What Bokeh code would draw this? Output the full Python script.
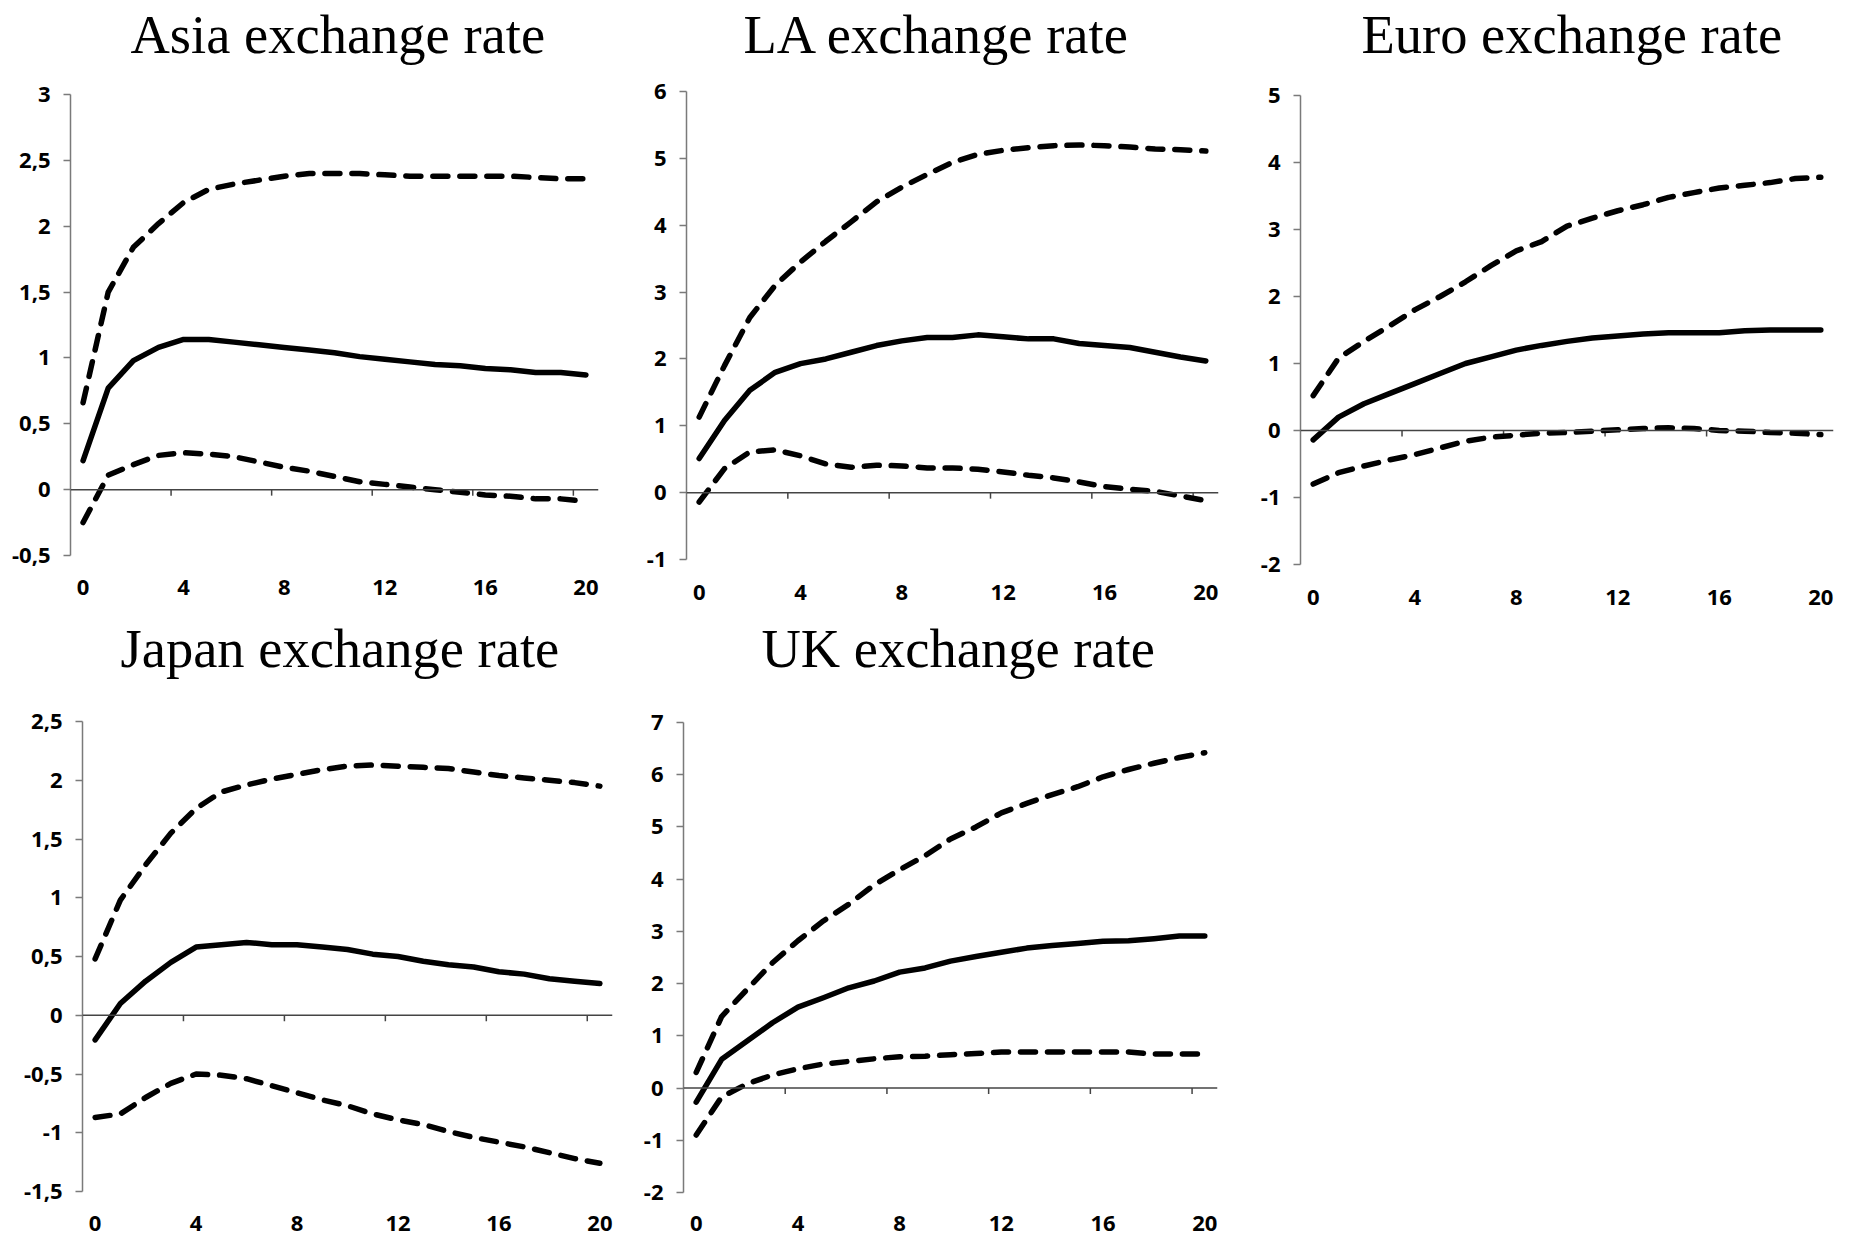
from bokeh.plotting import figure
from bokeh.models import FixedTicker, Span, Range1d, Title
from bokeh.layouts import row, column
from bokeh.embed import file_html
from bokeh.resources import INLINE

# ---------------- data ----------------
horizon = list(range(21))
x_tick_labels = [0, 4, 8, 12, 16, 20]

asia_mean = [0.22, 0.77, 0.98, 1.08, 1.14, 1.14, 1.12, 1.10, 1.08, 1.06, 1.04,
             1.01, 0.99, 0.97, 0.95, 0.94, 0.92, 0.91, 0.89, 0.89, 0.87]
asia_upper = [0.66, 1.50, 1.84, 2.02, 2.18, 2.28, 2.32, 2.35, 2.38, 2.40, 2.40,
              2.40, 2.39, 2.38, 2.38, 2.38, 2.38, 2.38, 2.37, 2.36, 2.36]
asia_lower = [-0.25, 0.11, 0.19, 0.26, 0.28, 0.27, 0.25, 0.21, 0.17, 0.14, 0.10,
              0.06, 0.04, 0.02, 0.00, -0.02, -0.04, -0.05, -0.07, -0.07, -0.09]
asia_yticks = [-0.5, 0, 0.5, 1, 1.5, 2, 2.5, 3]

la_mean = [0.51, 1.08, 1.53, 1.80, 1.93, 2.00, 2.10, 2.20, 2.27, 2.32, 2.32,
           2.36, 2.33, 2.30, 2.30, 2.23, 2.20, 2.17, 2.10, 2.03, 1.97]
la_upper = [1.13, 1.90, 2.62, 3.10, 3.45, 3.76, 4.05, 4.35, 4.57, 4.76, 4.94,
            5.06, 5.12, 5.16, 5.19, 5.20, 5.19, 5.17, 5.14, 5.13, 5.11]
la_lower = [-0.14, 0.36, 0.61, 0.64, 0.55, 0.43, 0.38, 0.41, 0.40, 0.37, 0.37,
            0.35, 0.31, 0.26, 0.22, 0.16, 0.09, 0.05, 0.02, -0.05, -0.12]
la_yticks = [-1, 0, 1, 2, 3, 4, 5, 6]

euro_mean = [-0.14, 0.20, 0.40, 0.55, 0.70, 0.85, 1.00, 1.10, 1.20, 1.27, 1.33,
             1.38, 1.41, 1.44, 1.46, 1.46, 1.46, 1.49, 1.50, 1.50, 1.50]
euro_upper = [0.52, 1.08, 1.33, 1.56, 1.80, 2.00, 2.22, 2.46, 2.68, 2.82, 3.05,
              3.17, 3.28, 3.37, 3.48, 3.55, 3.62, 3.66, 3.70, 3.76, 3.78]
euro_lower = [-0.80, -0.63, -0.53, -0.44, -0.36, -0.26, -0.16, -0.10, -0.07, -0.04, -0.03,
              -0.01, 0.01, 0.03, 0.04, 0.03, 0.00, -0.01, -0.03, -0.04, -0.06]
euro_yticks = [-2, -1, 0, 1, 2, 3, 4, 5]

japan_mean = [-0.21, 0.10, 0.29, 0.45, 0.58, 0.60, 0.62, 0.60, 0.60, 0.58, 0.56,
              0.52, 0.50, 0.46, 0.43, 0.41, 0.37, 0.35, 0.31, 0.29, 0.27]
japan_upper = [0.48, 0.98, 1.28, 1.55, 1.76, 1.90, 1.96, 2.01, 2.05, 2.09, 2.12,
               2.13, 2.12, 2.11, 2.10, 2.07, 2.04, 2.02, 2.00, 1.98, 1.95]
japan_lower = [-0.87, -0.84, -0.70, -0.58, -0.50, -0.51, -0.54, -0.60, -0.66, -0.72, -0.77,
               -0.84, -0.89, -0.93, -0.99, -1.04, -1.08, -1.12, -1.17, -1.22, -1.26]
japan_yticks = [-1.5, -1, -0.5, 0, 0.5, 1, 1.5, 2, 2.5]

uk_mean = [-0.27, 0.55, 0.90, 1.25, 1.55, 1.73, 1.92, 2.05, 2.22, 2.30, 2.43,
           2.52, 2.60, 2.68, 2.73, 2.77, 2.81, 2.82, 2.86, 2.91, 2.91]
uk_upper = [0.30, 1.37, 1.89, 2.40, 2.82, 3.20, 3.52, 3.89, 4.18, 4.45, 4.77,
            5.00, 5.27, 5.45, 5.62, 5.77, 5.96, 6.10, 6.22, 6.33, 6.42]
uk_lower = [-0.90, -0.17, 0.08, 0.25, 0.37, 0.46, 0.51, 0.56, 0.60, 0.61, 0.64,
            0.66, 0.69, 0.69, 0.69, 0.69, 0.69, 0.69, 0.65, 0.65, 0.65]
uk_yticks = [-2, -1, 0, 1, 2, 3, 4, 5, 6, 7]

titles = ["Asia exchange rate", "LA exchange rate", "Euro exchange rate",
          "Japan exchange rate", "UK exchange rate"]

# ---------------- styling / layout ----------------
TITLE_FONT = "Liberation Serif"
TITLE_SIZE = "54.5px"
TICK_FONT = "Open Sans"


def fmt(v):
    return ("%g" % v).replace(".", ",")


def make_panel(title, mean, upper, lower, yticks, g):
    """g: geometry in page pixels (layout only, no data)."""
    ymin_t, ymax_t = min(yticks), max(yticks)
    frame_top = g["fig_top"] + g["b_top"]
    frame_bottom = g["fig_top"] + g["height"] - g["b_bottom"]
    k = (g["tick_bottom_px"] - g["tick_top_px"]) / (ymax_t - ymin_t)
    y_start = ymin_t - (frame_bottom - g["tick_bottom_px"]) / k
    y_end = ymax_t + (g["tick_top_px"] - frame_top) / k

    p = figure(width=g["width"], height=g["height"], output_backend="svg",
               toolbar_location=None, tools="",
               x_range=Range1d(-0.5, 20.5), y_range=Range1d(y_start, y_end),
               min_border_left=g["b_left"], min_border_right=g["b_right"],
               min_border_top=g["b_top"], min_border_bottom=g["b_bottom"])
    p.title = Title(text=title, align="left", offset=g["title_offset"],
                    text_font=TITLE_FONT, text_font_size=TITLE_SIZE,
                    text_font_style="normal", text_color="black", standoff=0)
    p.outline_line_color = None
    p.xgrid.visible = False
    p.ygrid.visible = False
    p.background_fill_color = "white"
    p.border_fill_color = "white"

    # y axis
    ya = p.yaxis[0]
    ya.ticker = FixedTicker(ticks=yticks)
    ya.bounds = (ymin_t, ymax_t)
    ya.major_label_overrides = {t: fmt(t) for t in yticks}
    ya.axis_line_color = "#7a7a7a"
    ya.axis_line_width = 1.5
    ya.major_tick_line_color = "#7a7a7a"
    ya.major_tick_line_width = 1.5
    ya.major_tick_in = 0
    ya.major_tick_out = 7
    ya.minor_tick_line_color = None
    ya.major_label_standoff = 13
    ya.major_label_text_font = TICK_FONT
    ya.major_label_text_font_style = "bold"
    ya.major_label_text_font_size = "22px"
    ya.major_label_text_color = "black"

    # x axis labels at the bottom (no line, no ticks)
    xa = p.xaxis[0]
    xa.ticker = FixedTicker(ticks=x_tick_labels)
    xa.axis_line_color = None
    xa.major_tick_line_color = None
    xa.minor_tick_line_color = None
    xa.major_tick_in = 0
    xa.major_tick_out = 0
    xa.major_label_standoff = g["x_standoff"]
    xa.major_label_text_font = TICK_FONT
    xa.major_label_text_font_style = "bold"
    xa.major_label_text_font_size = "22px"
    xa.major_label_text_color = "black"

    # horizontal axis line at zero with tick marks between categories
    p.add_layout(Span(location=0, dimension="width", line_color="#444444",
                      line_width=1.5))
    tick_len = 6 / k
    bounds = [t - 0.5 for t in x_tick_labels[1:]]
    p.segment(x0=bounds, y0=[0] * len(bounds), x1=bounds,
              y1=[-tick_len] * len(bounds), line_color="#444444", line_width=1.5)

    dash = dict(line_color="black", line_width=5.5, line_dash="15 12",
                line_cap="round", line_join="round")
    p.line(horizon, upper, **dash)
    p.line(horizon, lower, **dash)
    p.line(horizon, mean, line_color="black", line_width=5.5,
           line_join="round", line_cap="round")
    return p


ROW1_TOP, ROW1_H = 0, 614
ROW2_TOP, ROW2_H = 614, 644
BT = 64

geo = [
    dict(fig_top=ROW1_TOP, width=638, height=ROW1_H, b_left=70, b_right=40,
         b_top=BT, b_bottom=ROW1_H - 564, tick_top_px=94, tick_bottom_px=555,
         x_standoff=15, title_offset=60),
    dict(fig_top=ROW1_TOP, width=612, height=ROW1_H, b_left=48, b_right=32,
         b_top=BT, b_bottom=ROW1_H - 564, tick_top_px=91, tick_bottom_px=559,
         x_standoff=20, title_offset=57),
    dict(fig_top=ROW1_TOP, width=600, height=ROW1_H, b_left=50, b_right=17,
         b_top=BT, b_bottom=ROW1_H - 564, tick_top_px=95, tick_bottom_px=564,
         x_standoff=25, title_offset=61),
    dict(fig_top=ROW2_TOP, width=635, height=ROW2_H, b_left=82, b_right=23,
         b_top=BT, b_bottom=ROW2_TOP + ROW2_H - 1192, tick_top_px=721, tick_bottom_px=1191,
         x_standoff=23, title_offset=38),
    dict(fig_top=ROW2_TOP, width=650, height=ROW2_H, b_left=48, b_right=68,
         b_top=BT, b_bottom=ROW2_TOP + ROW2_H - 1192, tick_top_px=722, tick_bottom_px=1192,
         x_standoff=23, title_offset=78),
]

series = [
    (asia_mean, asia_upper, asia_lower, asia_yticks),
    (la_mean, la_upper, la_lower, la_yticks),
    (euro_mean, euro_upper, euro_lower, euro_yticks),
    (japan_mean, japan_upper, japan_lower, japan_yticks),
    (uk_mean, uk_upper, uk_lower, uk_yticks),
]

plots = [make_panel(t, m, u, l, yt, g) for t, (m, u, l, yt), g in zip(titles, series, geo)]

layout = column(row(plots[0], plots[1], plots[2]), row(plots[3], plots[4]))

with open("out.html", "w") as f:
    f.write(file_html(layout, INLINE))
